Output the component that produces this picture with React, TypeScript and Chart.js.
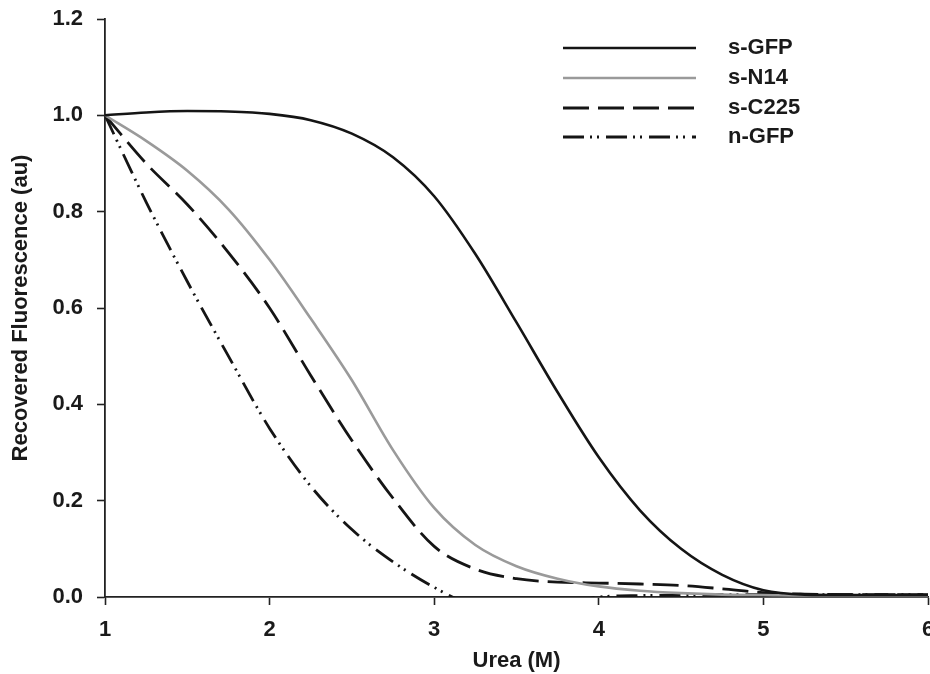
import React, { useEffect, useRef } from "react";
import { Chart, registerables } from "chart.js";

Chart.register(...registerables);

// Urea concentration grid (M)
const ureaM = [1, 1.25, 1.5, 1.75, 2, 2.25, 2.5, 2.75, 3, 3.25, 3.5, 3.75, 4, 4.25, 4.5, 4.75, 5, 5.25, 5.5, 5.75, 6];

const sGFP = [1.0, 1.006, 1.009, 1.008, 1.003, 0.99, 0.962, 0.913, 0.832, 0.712, 0.57, 0.425, 0.29, 0.18, 0.1, 0.046, 0.014, 0.005, 0.004, 0.004, 0.004];
const sN14 = [1.0, 0.947, 0.885, 0.805, 0.7, 0.578, 0.45, 0.305, 0.185, 0.108, 0.064, 0.038, 0.022, 0.013, 0.008, 0.005, 0.004, 0.003, 0.003, 0.003, 0.003];
const sC225 = [1.0, 0.9, 0.815, 0.715, 0.6, 0.46, 0.325, 0.205, 0.105, 0.058, 0.038, 0.031, 0.029, 0.027, 0.024, 0.017, 0.009, 0.006, 0.005, 0.005, 0.005];
const nGFP = [1.0, 0.82, 0.655, 0.5, 0.35, 0.23, 0.14, 0.073, 0.02, -0.02, -0.03, -0.02, 0.0, 0.003, 0.004, 0.005, 0.005, 0.005, 0.005, 0.005, 0.005];

const seriesNames = ["s-GFP", "s-N14", "s-C225", "n-GFP"];
const xTicks = [1, 2, 3, 4, 5, 6];
const yTicks = [0, 0.2, 0.4, 0.6, 0.8, 1.0, 1.2];

const FONT = "'Liberation Sans', Arial, Helvetica, sans-serif";

const legendPlugin = {
  id: "customLegend",
  afterDraw(chart: any) {
    const ctx = chart.ctx;
    const x0 = 563, x1 = 696, tx = 728;
    const ys = [48, 78, 108, 137];
    chart.data.datasets.forEach((ds: any, i: number) => {
      const y = ys[i];
      ctx.save();
      ctx.strokeStyle = ds.borderColor;
      ctx.lineWidth = ds.borderWidth;
      ctx.setLineDash(ds.borderDash || []);
      ctx.beginPath();
      ctx.moveTo(x0, y);
      ctx.lineTo(x1, y);
      ctx.stroke();
      ctx.setLineDash([]);
      ctx.fillStyle = "#1a1a1a";
      ctx.font = `bold 22px ${FONT}`;
      ctx.textBaseline = "middle";
      ctx.textAlign = "left";
      ctx.fillText(ds.label, tx, y);
      ctx.restore();
    });
  },
};

export default function App() {
  const ref = useRef<HTMLCanvasElement>(null);

  useEffect(() => {
    if (!ref.current) return;
    const mk = (vals: number[]) => ureaM.map((x, i) => ({ x, y: vals[i] }));
    const chart = new Chart(ref.current, {
      type: "line",
      data: {
        datasets: [
          { label: seriesNames[0], data: mk(sGFP), borderColor: "#151515", borderWidth: 2.6, pointRadius: 0, cubicInterpolationMode: "monotone", fill: false },
          { label: seriesNames[1], data: mk(sN14), borderColor: "#9a9a9a", borderWidth: 2.6, pointRadius: 0, cubicInterpolationMode: "monotone", fill: false },
          { label: seriesNames[2], data: mk(sC225), borderColor: "#151515", borderWidth: 2.8, borderDash: [26, 9], pointRadius: 0, cubicInterpolationMode: "monotone", fill: false },
          { label: seriesNames[3], data: mk(nGFP), borderColor: "#151515", borderWidth: 2.8, borderDash: [21, 6, 2, 5, 2, 7], pointRadius: 0, cubicInterpolationMode: "monotone", fill: false },
        ] as any,
      },
      options: {
        animation: false,
        responsive: false,
        layout: { padding: { top: 19, right: 2, bottom: 0, left: 0 } },
        plugins: { legend: { display: false }, tooltip: { enabled: false } },
        scales: {
          x: {
            type: "linear",
            min: 1,
            max: 6,
            afterBuildTicks: (s: any) => { s.ticks = xTicks.map((v) => ({ value: v })); },
            afterFit: (s: any) => { s.height = 77; s.paddingLeft = 0; s.paddingRight = 0; },
            grid: { drawOnChartArea: false, drawTicks: true, tickLength: 8, tickColor: "#222", tickWidth: 1.6 },
            border: { display: true, color: "#222", width: 1.8 },
            ticks: { color: "#1a1a1a", padding: 12, font: { family: FONT, size: 22, weight: "bold" }, maxRotation: 0, callback: (v: any) => String(v) },
            title: { display: true, text: "Urea (M)", color: "#1a1a1a", padding: { top: 0, bottom: 0 }, font: { family: FONT, size: 22, weight: "bold", lineHeight: 1.2 } },
          },
          y: {
            type: "linear",
            min: 0,
            max: 1.2,
            afterBuildTicks: (s: any) => { s.ticks = yTicks.map((v) => ({ value: v })); },
            afterFit: (s: any) => { s.width = 105; s.paddingTop = 0; s.paddingBottom = 0; },
            grid: { drawOnChartArea: false, drawTicks: true, tickLength: 8, tickColor: "#222", tickWidth: 1.6 },
            border: { display: true, color: "#222", width: 1.8 },
            ticks: { color: "#1a1a1a", padding: 14, font: { family: FONT, size: 22, weight: "bold" }, callback: (v: any) => Number(v).toFixed(1) },
            title: { display: true, text: "Recovered Fluorescence (au)", color: "#1a1a1a", padding: { top: 8, bottom: 0 }, font: { family: FONT, size: 22, weight: "bold", lineHeight: 1.2 } },
          },
        },
      } as any,
      plugins: [legendPlugin],
    });
    return () => chart.destroy();
  }, []);

  return (
    <div style={{ position: "absolute", left: 0, top: 0, width: 930, height: 674, background: "#fff" }}>
      <canvas ref={ref} width={930} height={674} style={{ display: "block" }} />
    </div>
  );
}
